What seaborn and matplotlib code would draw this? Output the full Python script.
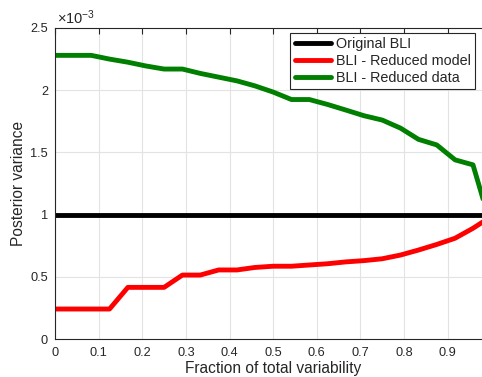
import numpy as np
import pandas as pd
import matplotlib
matplotlib.use("Agg")
import matplotlib.pyplot as plt
import seaborn as sns

# ---- data (y in units of variance) ----
fraction = [0.000, 0.042, 0.083, 0.125, 0.167, 0.208, 0.250, 0.292, 0.333,
            0.375, 0.417, 0.458, 0.500, 0.542, 0.583, 0.625, 0.667, 0.708,
            0.750, 0.792, 0.833, 0.875, 0.917, 0.958, 1.000]
original_bli = [1.0e-3] * 25
reduced_model = [0.241, 0.241, 0.241, 0.241, 0.415, 0.415, 0.415, 0.514, 0.514,
                 0.555, 0.555, 0.575, 0.585, 0.585, 0.595, 0.605, 0.620, 0.630,
                 0.645, 0.675, 0.715, 0.760, 0.810, 0.890, 0.985]
reduced_data = [2.280, 2.280, 2.280, 2.250, 2.225, 2.195, 2.170, 2.170, 2.135,
                2.105, 2.075, 2.035, 1.985, 1.925, 1.925, 1.885, 1.840, 1.795,
                1.760, 1.695, 1.605, 1.560, 1.440, 1.400, 0.900]
reduced_model = [v * 1e-3 for v in reduced_model]
reduced_data = [v * 1e-3 for v in reduced_data]

series_names = ["Original BLI", "BLI - Reduced model", "BLI - Reduced data"]
series_colors = ["#000000", "#ff0000", "#007f00"]
x_ticks = [0, 0.1, 0.2, 0.3, 0.4, 0.5, 0.6, 0.7, 0.8, 0.9, 1.0]
x_tick_labels = ["0", "0.1", "0.2", "0.3", "0.4", "0.5", "0.6", "0.7",
                 "0.8", "0.9", ""]
y_ticks = [0, 0.5e-3, 1.0e-3, 1.5e-3, 2.0e-3, 2.5e-3]
y_tick_labels = ["0", "0.5", "1", "1.5", "2", "2.5"]

df = pd.DataFrame({
    "fraction": fraction * 3,
    "variance": original_bli + reduced_model + reduced_data,
    "series": sum([[n] * len(fraction) for n in series_names], []),
})

sns.set_theme(style="white")
plt.rcParams["font.family"] = ["Liberation Sans", "DejaVu Sans"]
plt.rcParams["mathtext.fontset"] = "custom"
plt.rcParams["mathtext.rm"] = "Liberation Sans"
plt.rcParams["mathtext.it"] = "Liberation Sans:italic"
plt.rcParams["axes.unicode_minus"] = False

W, H = 482, 377
fig = plt.figure(figsize=(W / 100, H / 100), dpi=100)
# axes spans pixels x 55..491 (x=1 falls just outside the image), y 28..339
ax = fig.add_axes([55 / W, (H - 339) / H, (491.3 - 55) / W, (339 - 28) / H])

sns.lineplot(data=df, x="fraction", y="variance", hue="series",
             hue_order=series_names, palette=series_colors,
             linewidth=3.5, ax=ax, legend=True, sort=False)

ax.set_xlim(0, 1)
ax.set_ylim(0, 2.5e-3)
ax.set_xticks(x_ticks)
ax.set_xticklabels(x_tick_labels)
ax.set_yticks(y_ticks)
ax.set_yticklabels(y_tick_labels)

axcol = "#262626"
ax.text(0.004, 1.004, r"$\times\mathregular{10^{-3}}$", transform=ax.transAxes,
        ha="left", va="bottom", fontsize=10.5, color=axcol)

ax.grid(True, color="#e3e3e3", linewidth=0.8)
ax.set_axisbelow(True)
for s in ax.spines.values():
    s.set_color("#262626")
    s.set_linewidth(0.8)
ax.tick_params(axis="both", direction="in", length=4, width=0.8,
               colors=axcol, labelsize=9.2, labelcolor=axcol,
               top=True, right=True)
ax.tick_params(axis="x", pad=6)
ax.tick_params(axis="y", pad=5)

ax.set_xlabel("Fraction of total variability", fontsize=11.2, color=axcol,
              labelpad=1)
ax.set_ylabel("Posterior variance", fontsize=11.2, color=axcol, labelpad=3)

leg = ax.legend(loc="upper right", bbox_to_anchor=(0.9627, 0.985),
                borderaxespad=0, fontsize=10.4, frameon=True, fancybox=False,
                framealpha=1, edgecolor="#262626", handlelength=2.5,
                handletextpad=0.35, borderpad=0.3, labelspacing=0.2)
leg.get_frame().set_linewidth(0.8)
for line in leg.get_lines():
    line.set_linewidth(3.5)

fig.savefig("out.png", dpi=100)
